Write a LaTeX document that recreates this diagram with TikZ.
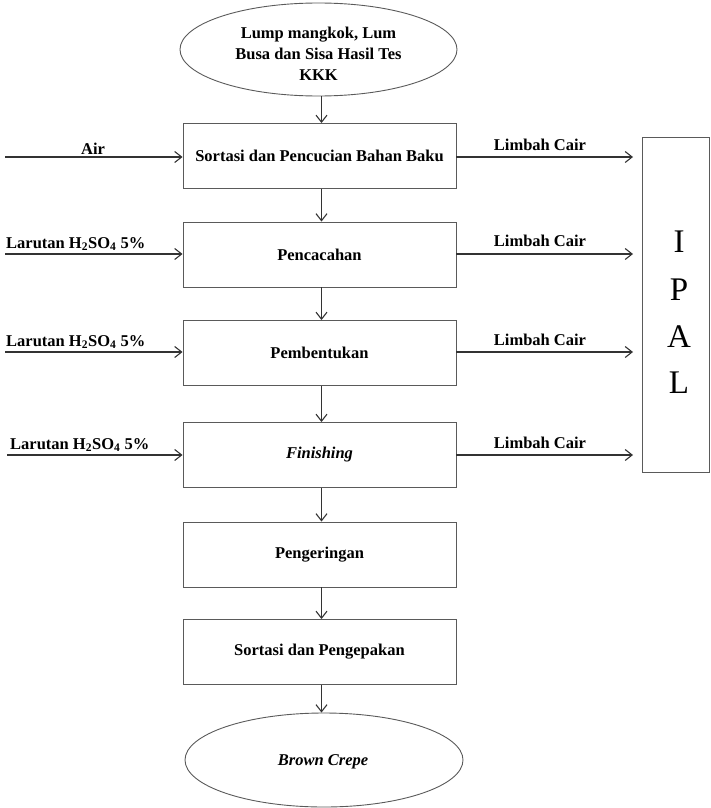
\documentclass[tikz,border=0pt]{standalone}
\usepackage{fontspec}
\setmainfont{Liberation Serif}
\usetikzlibrary{shapes.geometric,arrows.meta}
\definecolor{edge}{HTML}{5A5A5A}
\definecolor{wire}{HTML}{333333}
\begin{document}
\begin{tikzpicture}[x=1pt,y=-1pt,
  every node/.style={font=\fontsize{16.5}{21}\selectfont\bfseries, text=black},
  stepbox/.style={draw=edge, line width=0.9pt, rectangle, minimum width=273pt,
    minimum height=65pt, inner sep=0pt},
  endcap/.style={draw=edge, line width=0.9pt, ellipse, minimum width=277pt,
    minimum height=93pt, inner sep=0pt},
  flow/.style={draw=wire, line width=1.2pt, -{Straight Barb[length=7pt,width=11pt,line width=1.1pt]}},
  tag/.style={anchor=south, inner sep=0pt},
  ipal/.style={font=\fontsize{33}{33}\selectfont, text=black}
]
\useasboundingbox (0,0) rectangle (711,808);

% start and end of the process
\node[endcap] (start) at (318.5,49.5) {};
\node[align=center, inner sep=0pt] (starttext) at (318.5,54)
  {Lump mangkok, Lum\\Busa dan Sisa Hasil Tes\\KKK};
\node[endcap, minimum width=278pt, minimum height=94pt] (finish) at (324,760) {};
\node[inner sep=0pt] (finishtext) at (323,762) {\itshape Brown Crepe};

% process steps
\node[stepbox] (b1) at (319.5,156) {Sortasi dan Pencucian Bahan Baku};
\node[stepbox] (b2) at (319.5,254.5) {Pencacahan};
\node[stepbox] (b3) at (319.5,353) {Pembentukan};
\node[stepbox] (b4) at (319.5,455) {\itshape Finishing};
\node[stepbox] (b5) at (319.5,554.5) {Pengeringan};
\node[stepbox] (b6) at (319.5,652) {Sortasi dan Pengepakan};

% wastewater treatment unit
\node[draw=edge, line width=0.9pt, rectangle, minimum width=67pt, minimum height=335pt,
  inner sep=0pt] (wwtp) at (675.5,305) {};
\node[ipal] (l1) at (679,242) {I};
\node[ipal] (l2) at (679,290) {P};
\node[ipal] (l3) at (679,337) {A};
\node[ipal] (l4) at (679,383) {L};

% main flow
\draw[flow] ([xshift=3pt]start.south) -- ([xshift=3pt]start.south |- b1.north);
\draw[flow] ([xshift=2pt]b1.south) -- ([xshift=2pt]b2.north);
\draw[flow] ([xshift=2pt]b2.south) -- ([xshift=2pt]b3.north);
\draw[flow] ([xshift=2pt]b3.south) -- ([xshift=2pt]b4.north);
\draw[flow] ([xshift=2pt]b4.south) -- ([xshift=2pt]b5.north);
\draw[flow] ([xshift=2pt]b5.south) -- ([xshift=2pt]b6.north);
\draw[flow] ([xshift=2pt]b6.south) -- ([xshift=2pt]b6.south |- finish.north);

% inputs
\coordinate (in1) at (5,157);
\coordinate (in2) at (5,254);
\coordinate (in3) at (5,352);
\coordinate (in4) at (7,455);
\draw[flow] (in1) -- (in1 -| b1.west);
\draw[flow] (in2) -- (in2 -| b2.west);
\draw[flow] (in3) -- (in3 -| b3.west);
\draw[flow] (in4) -- (in4 -| b4.west);
\node[tag] (a1) at (93,155) {Air};
\node[tag, anchor=south west] (a2) at (6,251) {Larutan H\textsubscript{2}SO\textsubscript{4} 5\%};
\node[tag, anchor=south west] (a3) at (6,349) {Larutan H\textsubscript{2}SO\textsubscript{4} 5\%};
\node[tag, anchor=south west] (a4) at (10,452) {Larutan H\textsubscript{2}SO\textsubscript{4} 5\%};

% waste outputs
\coordinate (o1) at (633,157);
\coordinate (o2) at (633,254);
\coordinate (o3) at (633,352);
\coordinate (o4) at (633,455);
\draw[flow] (o1 -| b1.east) -- (o1);
\draw[flow] (o2 -| b2.east) -- (o2);
\draw[flow] (o3 -| b3.east) -- (o3);
\draw[flow] (o4 -| b4.east) -- (o4);
\node[tag] (w1) at (540,151) {Limbah Cair};
\node[tag] (w2) at (540,247) {Limbah Cair};
\node[tag] (w3) at (540,346) {Limbah Cair};
\node[tag] (w4) at (540,449) {Limbah Cair};
\end{tikzpicture}
\end{document}
